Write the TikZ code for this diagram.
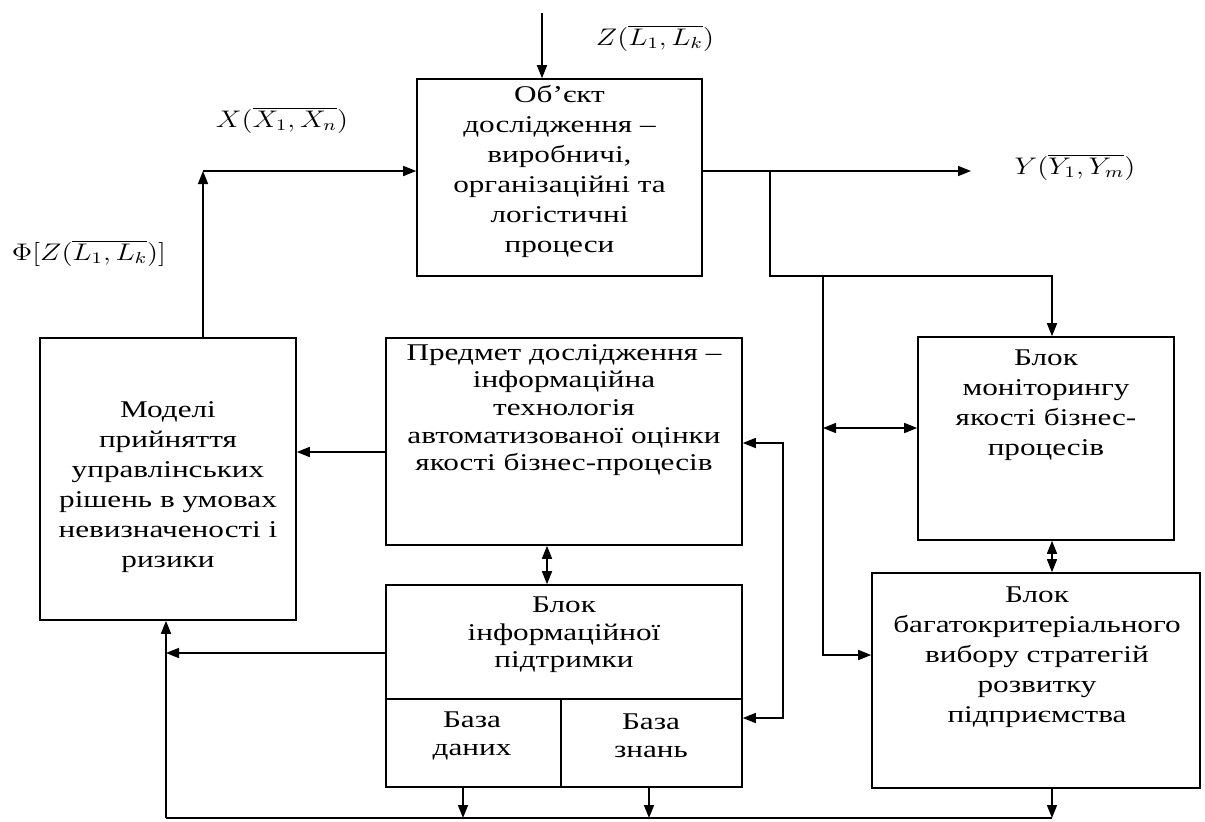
\documentclass[tikz,border=0pt]{standalone}
\usepackage{fontspec}
\setmainfont{Liberation Serif}[FakeStretch=1.3]
\usepackage{graphicx}
\usetikzlibrary{arrows.meta,fit}
\begin{document}
\begin{tikzpicture}[x=0.5pt,y=-0.5pt,
  line width=0.8pt,
  box/.style={draw, line width=0.8pt, inner sep=0pt},
  txt/.style={align=center, inner sep=0pt, font=\fontsize{12}{15}\selectfont},
  txts/.style={align=center, inner sep=0pt, font=\fontsize{12}{13.8}\selectfont},
  arr/.style={-{Triangle[length=6.5pt,width=5pt]}},
  barr/.style={{Triangle[length=6.5pt,width=5pt]}-{Triangle[length=6.5pt,width=5pt]}},
  lbl/.style={inner sep=0pt, font=\fontsize{12}{14}\selectfont}
]
\useasboundingbox (0,0) rectangle (1205,821);

% boxes
\node[box, fit={(417,79) (702,276)}] (obj) {};
\node[box, fit={(40,338) (296,620)}] (models) {};
\node[box, fit={(386,338) (742,545)}] (pred) {};
\node[box, fit={(918,337) (1174,540)}] (mon) {};
\node[box, fit={(386,585) (742,787)}] (info) {};
\node[box, fit={(386,699) (561,787)}] (db) {};
\node[box, fit={(561,699) (742,787)}] (kb) {};
\node[box, fit={(872,573) (1200,788)}] (str) {};

% texts
\node[txt] (objt) at (559.5,171) {Об’єкт\\дослідження –\\виробничі,\\організаційні та\\логістичні\\процеси};
\node[txt] (modelst) at (168,487) {Моделі\\прийняття\\управлінських\\рішень в умовах\\невизначеності і\\ризики};
\node[txts] (predt) at (564,410) {Предмет дослідження –\\інформаційна\\технологія\\автоматизованої оцінки\\якості бізнес-процесів};
\node[txt] (mont) at (1046,405) {Блок\\моніторингу\\якості бізнес-\\процесів};
\node[txts] (infot) at (564,635) {Блок\\інформаційної\\підтримки};
\node[txts] (dbt) at (472,736) {База\\даних};
\node[txts] (kbt) at (651,736) {База\\знань};
\node[txt] (strt) at (1037,657) {Блок\\багатокритеріального\\вибору стратегій\\розвитку\\підприємства};

% labels
\node[lbl] (zl) at (655,38) {\scalebox{1.2}[1]{$Z(\overline{L_1,L_k})$}};
\node[lbl] (xl) at (282,120) {\scalebox{1.2}[1]{$X(\overline{X_1,X_n})$}};
\node[lbl] (fl) at (89,253) {\scalebox{1.2}[1]{$\Phi[Z(\overline{L_1,L_k})]$}};
\node[lbl] (yl) at (1075,167) {\scalebox{1.2}[1]{$Y(\overline{Y_1,Y_m})$}};

% connectors
\coordinate (ztop) at (542,13);
\draw[arr] (ztop) -- (ztop |- obj.north);
\coordinate (xc) at (203,171);
\draw[arr] (xc |- models.north) -- (xc);
\draw[arr] (xc) -- (xc -| obj.west);
\coordinate (yend) at (971,171);
\draw[arr] (yend -| obj.east) -- (yend);
\coordinate (b1) at (770,171);
\coordinate (b2) at (770,276);
\coordinate (b3) at (1052,276);
\draw[arr] (b1) -- (b2) -- (b3) -- (b3 |- mon.north);
\coordinate (b4) at (823,276);
\coordinate (b5) at (823,655);
\draw[arr] (b4) -- (b5) -- (b5 -| str.west);
\coordinate (m1) at (823,428);
\draw[barr] (m1) -- (m1 -| mon.west);
\draw[barr] (b3 |- mon.south) -- (b3 |- str.north);
\coordinate (p1) at (386,452);
\draw[arr] (p1 -| pred.west) -- (p1 -| models.east);
\coordinate (p2) at (547,560);
\draw[barr] (p2 |- pred.south) -- (p2 |- info.north);
\coordinate (r1) at (783,443);
\coordinate (r2) at (783,718);
\draw[barr] (r1 -| pred.east) -- (r1) -- (r2) -- (r2 -| kb.east);
\coordinate (l1) at (166,653);
\draw[arr] (l1 -| info.west) -- (l1);
\coordinate (bl) at (166,818);
\coordinate (br) at (1052,818);
\draw[arr] (bl) -- (bl |- models.south);
\draw (bl) -- (br);
\coordinate (d1) at (463,818);
\draw[arr] (d1 |- db.south) -- (d1);
\coordinate (k1) at (649,818);
\draw[arr] (k1 |- kb.south) -- (k1);
\draw[arr] (br |- str.south) -- (br);
\end{tikzpicture}
\end{document}
